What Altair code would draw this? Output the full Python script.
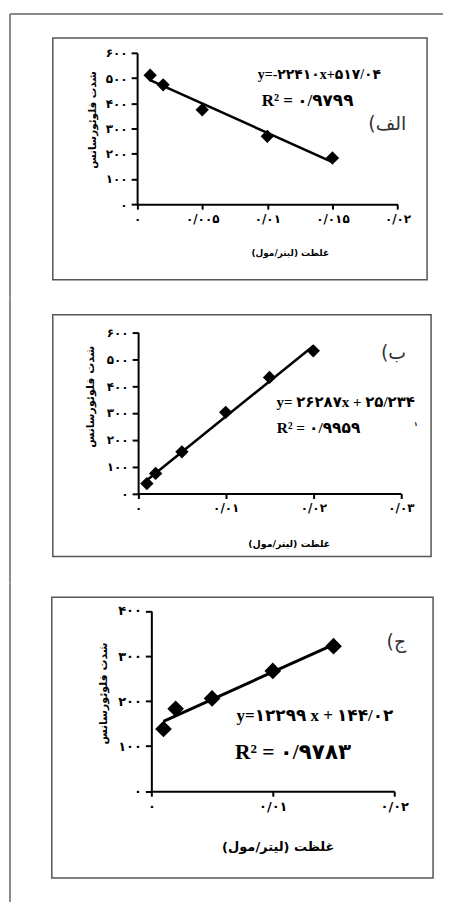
import json
import altair as alt
import pandas as pd

# ---------------- data ----------------
conc_a = [0.001, 0.002, 0.005, 0.010, 0.015]
fluo_a = [511, 473, 374, 269, 183]

conc_b = [0.001, 0.002, 0.005, 0.010, 0.015, 0.020]
fluo_b = [37, 75, 155, 302, 432, 531]

conc_c = [0.001, 0.002, 0.005, 0.010, 0.015]
fluo_c = [138, 183, 206, 267, 322]

# tick values and their (Persian) labels
xt_a = [0, 0.005, 0.01, 0.015, 0.02]
xl_a = ["۰", "۰/۰۰۵", "۰/۰۱", "۰/۰۱۵", "۰/۰۲"]
yt_a = [0, 100, 200, 300, 400, 500, 600]
yl_a = ["۰", "۱۰۰", "۲۰۰", "۳۰۰", "۴۰۰", "۵۰۰", "۶۰۰"]

xt_b = [0, 0.01, 0.02, 0.03]
xl_b = ["۰", "۰/۰۱", "۰/۰۲", "۰/۰۳"]
yt_b = [0, 100, 200, 300, 400, 500, 600]
yl_b = ["۰", "۱۰۰", "۲۰۰", "۳۰۰", "۴۰۰", "۵۰۰", "۶۰۰"]

xt_c = [0, 0.01, 0.02]
xl_c = ["۰", "۰/۰۱", "۰/۰۲"]
yt_c = [0, 100, 200, 300, 400]
yl_c = ["۰", "۱۰۰", "۲۰۰", "۳۰۰", "۴۰۰"]

eq_a = "y=-۲۲۴۱۰x+۵۱۷/۰۴"
r2_a = "R² = ۰/۹۷۹۹"
eq_b = "y= ۲۶۲۸۷x + ۲۵/۲۳۴"
r2_b = "R² = ۰/۹۹۵۹"
eq_c = "y=۱۲۲۹۹ x + ۱۴۴/۰۲"
r2_c = "R² = ۰/۹۷۸۳"
# panel tags, shown as "الف)", "ب)", "ج)" (text is laid out right-to-left)
tag_a = "(الف"
tag_b = "(ب"
tag_c = "(ج"

y_title = "شدت فلوئورسانس"
# shown as "غلظت (مول/لیتر)" read left to right, as in the reference
x_title = "(لیتر/مول) غلظت"

W = 438
SANS = "DejaVu Sans"
SERIF = "'Liberation Serif', 'DejaVu Sans'"
one = pd.DataFrame({"k": [0]})


def label_expr(values, labels):
    return f"{json.dumps(labels, ensure_ascii=False)}[indexof({json.dumps(values)}, datum.value)]"


def panel(h, conc, fluo, xt, xl, yt, yl, xr, yr, box, top_line, texts, msize,
          lw, xls, yls, xtx, xty, xts, ytx, yty, yts):
    df = pd.DataFrame({"c": conc, "f": fluo})
    xs = alt.Scale(domain=[xt[0], xt[-1]], range=xr, nice=False, zero=False)
    ys = alt.Scale(domain=[yt[0], yt[-1]], range=yr, nice=False, zero=False)
    common = dict(grid=False, domainColor="black", domainWidth=2,
                  tickColor="black", tickWidth=2, labelColor="black",
                  labelFont=SANS, labelFontWeight="bold",
                  labelOverlap=False, titleFont=SANS, titleFontWeight="bold",
                  titleColor="black", titleAlign="center", titleBaseline="middle")
    xa = alt.Axis(orient="bottom", offset=-(h - yr[0]), values=xt,
                  labelExpr=label_expr(xt, xl), labelFlush=False, tickSize=5,
                  labelPadding=4, labelFontSize=xls, title=x_title,
                  titleX=xtx, titleY=xty, titleFontSize=xts, **common)
    ya = alt.Axis(orient="left", offset=-xr[0], values=yt,
                  labelExpr=label_expr(yt, yl), tickSize=6, labelPadding=4,
                  labelFontSize=yls, title=y_title, titleX=ytx, titleY=yty,
                  titleAngle=270, titleFontSize=yts, **common)
    X = alt.X("c:Q", scale=xs, axis=xa)
    Y = alt.Y("f:Q", scale=ys, axis=ya)

    layers = []
    # page frame (left edge, plus top edge in the first panel) and panel box
    layers.append(alt.Chart(one).mark_rule(color="#666", strokeWidth=1.5).encode(
        x=alt.value(1), y=alt.value(3 if top_line else 0), y2=alt.value(h)))
    if top_line:
        layers.append(alt.Chart(one).mark_rule(color="#666", strokeWidth=1.5).encode(
            x=alt.value(1), x2=alt.value(436), y=alt.value(3)))
    layers.append(alt.Chart(one).mark_rect(fillOpacity=0, stroke="#555", strokeWidth=1.5).encode(
        x=alt.value(box[0]), x2=alt.value(box[1]), y=alt.value(box[2]), y2=alt.value(box[3])))

    layers.append(alt.Chart(df).mark_point(shape="diamond", filled=True, size=msize,
                                           color="black", opacity=1).encode(x=X, y=Y))
    layers.append(alt.Chart(df).transform_regression("c", "f").mark_line(
        color="black", strokeWidth=lw).encode(x=X, y=Y))
    for (tx, ty, txt, size, font, weight, align, color) in texts:
        tdf = pd.DataFrame({"c": [tx], "f": [ty], "t": [txt]})
        layers.append(alt.Chart(tdf).mark_text(
            font=font, fontSize=size, fontWeight=weight, align=align,
            baseline="middle", color=color).encode(x=X, y=Y, text="t:N"))
    return alt.layer(*layers).properties(width=W, height=h)


H1, H2, H3 = 287, 288, 320

p1 = panel(H1, conc_a, fluo_a, xt_a, xl_a, yt_a, yl_a, [128.7, 390.3], [194, 42],
           (44, 420, 27, 270), True,
           [(0.00927, 513, eq_a, 14, SERIF, "bold", "left", "black"),
            (0.00958, 410, r2_a, 17, SERIF, "bold", "left", "black"),
            (0.02067, 316, tag_a, 19, SANS, "normal", "right", "#333")],
           180, 2.5, 12, 12, 282, 49, 9, -44.7, 109, 10.5)

p2 = panel(H2, conc_b, fluo_b, xt_b, xl_b, yt_b, yl_b, [129.7, 393.7], [197.7, 35.7],
           (44, 424, 18, 261), False,
           [(0.0158, 341, eq_b, 15, SERIF, "bold", "left", "black"),
            (0.01583, 242, r2_b, 15.5, SERIF, "bold", "left", "black"),
            (0.0306, 522, tag_b, 19, SANS, "normal", "right", "#333"),
            (0.0317, 259, "۱", 6, SANS, "bold", "center", "black")],
           180, 2.5, 12, 12, 281, 50.3, 9.5, -47.7, 100, 11)

p3 = panel(H3, conc_c, fluo_c, xt_c, xl_c, yt_c, yl_c, [143, 387], [208.7, 27.7],
           (43, 426, 14, 296), False,
           [(0.00702, 167, eq_c, 17, SERIF, "bold", "left", "black"),
            (0.00689, 85.5, r2_c, 21.5, SERIF, "bold", "left", "black"),
            (0.02098, 331.5, tag_c, 19, SANS, "normal", "right", "#333")],
           280, 3, 13, 13, 270, 56, 13, -48, 110, 11)

chart = alt.vconcat(p1, p2, p3, spacing=0, bounds="flush").properties(
    padding=0, background="white"
).configure_view(stroke="transparent")

chart.save("out.html", embed_options={"renderer": "svg", "actions": False})
